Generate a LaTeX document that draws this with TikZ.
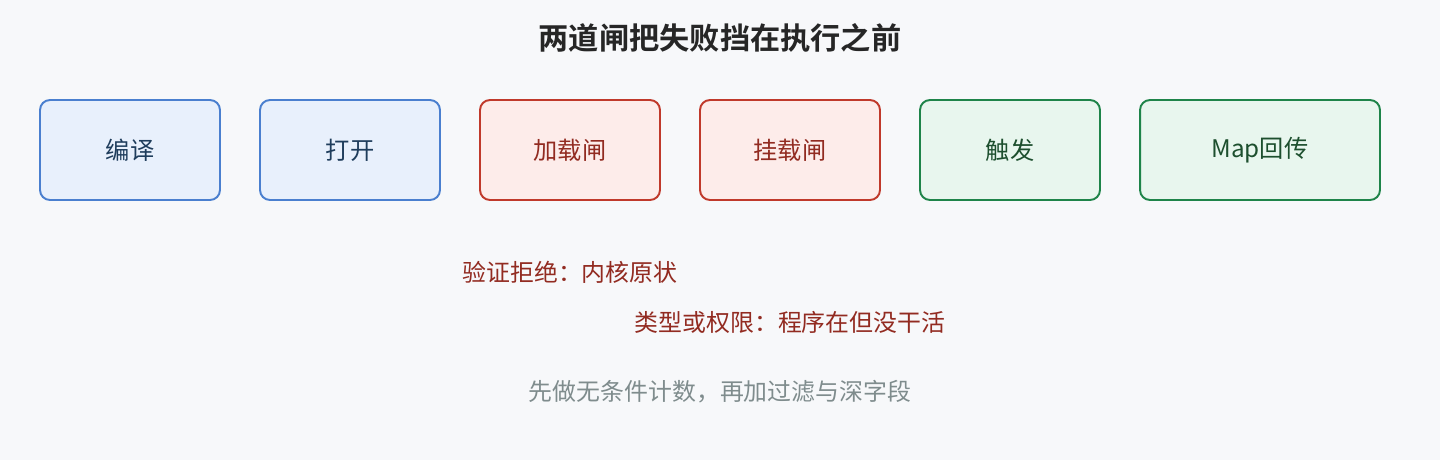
\documentclass[tikz,border=0pt]{standalone}
\usepackage{fontspec}
\setmainfont{Noto Sans CJK SC}
\newfontfamily\cjkbold{Noto Sans CJK SC Bold}
\usepackage{tikz}
\definecolor{bgcol}{HTML}{F7F8FA}
\definecolor{bluedraw}{HTML}{4A7FCF}
\definecolor{bluefill}{HTML}{E8F0FC}
\definecolor{bluetext}{HTML}{1F3D5C}
\definecolor{reddraw}{HTML}{C0392B}
\definecolor{redfill}{HTML}{FDECEA}
\definecolor{redtext}{HTML}{922B21}
\definecolor{greendraw}{HTML}{1E8449}
\definecolor{greenfill}{HTML}{E8F6EE}
\definecolor{greentext}{HTML}{1D4F2E}
\definecolor{notecol}{HTML}{7F8C8D}
\tikzstyle{stage}=[draw,rounded corners=0.2cm,line width=1.1pt,minimum width=3.6cm,minimum height=2cm,inner sep=0pt,font=\fontsize{13.8}{16}\selectfont]
\tikzstyle{prep}=[stage,draw=bluedraw,fill=bluefill,text=bluetext]
\tikzstyle{gate}=[stage,draw=reddraw,fill=redfill,text=redtext]
\tikzstyle{run}=[stage,draw=greendraw,fill=greenfill,text=greentext]
\tikzstyle{verdict}=[text=redtext,inner sep=0pt,font=\fontsize{13.6}{16}\selectfont]

\begin{document}
\begin{tikzpicture}[x=0.02cm,y=-0.02cm]
\fill[bgcol] (0,0) rectangle (1440,460);
\useasboundingbox (0,0) rectangle (1440,460);
\node[font=\cjkbold\fontsize{17.2}{20}\selectfont,text=black!85] (Title) at (720,38) {两道闸把失败挡在执行之前};
\node[prep] at (130,150) (Compile) {编译};
\node[prep] at (350,150) (Open) {打开};
\node[gate] at (570,150) (LoadGate) {加载闸};
\node[gate] at (790,150) (AttachGate) {挂载闸};
\node[run] at (1010,150) (Trigger) {触发};
\node[run,minimum width=4.8cm] at (1260,150) (MapBack) {Map回传};
\node[verdict] at (570,272) (Reject) {验证拒绝：内核原状};
\node[verdict] at (790,322) (Idle) {类型或权限：程序在但没干活};
\node[text=notecol,inner sep=0pt,font=\fontsize{13.6}{16}\selectfont] at (720,392) (Advice) {先做无条件计数，再加过滤与深字段};
\end{tikzpicture}
\end{document}
